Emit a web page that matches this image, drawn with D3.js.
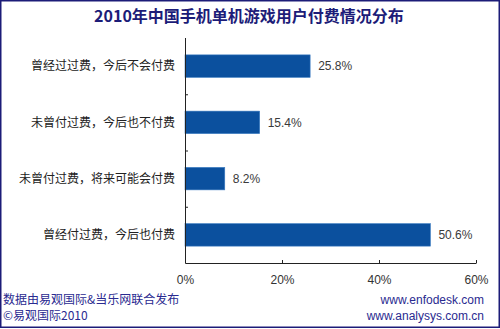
<!DOCTYPE html>
<html>
<head>
<meta charset="utf-8">
<script src="https://cdn.jsdelivr.net/npm/d3@7"></script>
<style>
  html, body { margin: 0; padding: 0; background: #fff; }
  svg { display: block; }
</style>
</head>
<body>
<svg id="chart" width="500" height="329"></svg>
<script>
// Payment status categories, top to bottom
const categories = [
  "曾经过过费，今后不会付费",
  "未曾付过费，今后也不付费",
  "未曾付过费，将来可能会付费",
  "曾经付过费，今后也付费"
];
// Share of users (%)
const values = [25.8, 15.4, 8.2, 50.6];
// Axis ticks
const tickValues = [0, 20, 40, 60];

const title = "2010年中国手机单机游戏用户付费情况分布";
const sourceLines = ["数据由易观国际&当乐网联合发布", "©易观国际2010"];
const siteLines = ["www.enfodesk.com", "www.analysys.com.cn"];

const W = 500, H = 329;
const svg = d3.select("#chart");
const navy = "#1c1c78";
const cjk = "'Noto Sans CJK SC', 'Liberation Sans', sans-serif";
const latin = "'Liberation Sans', Arial, sans-serif";

// Frame
svg.append("rect")
  .attr("x", 0.75).attr("y", 0.75)
  .attr("width", W - 1.5).attr("height", H - 2.5)
  .attr("fill", "#fff")
  .attr("stroke", navy).attr("stroke-width", 1.5);

// Title
svg.append("text")
  .attr("x", 249).attr("y", 22)
  .attr("text-anchor", "middle")
  .attr("font-family", cjk)
  .attr("font-size", 16)
  .attr("font-weight", "bold")
  .attr("fill", navy)
  .text(title);

const x = d3.scaleLinear().domain([0, 60]).range([185, 476]);
const y = d3.scaleBand().domain(categories).range([38, 263]).paddingInner(0.6).paddingOuter(0.3);

// Bars
svg.append("g").selectAll("rect")
  .data(categories)
  .join("rect")
  .attr("x", x(0))
  .attr("y", d => y(d))
  .attr("width", (d, i) => x(values[i]) - x(0))
  .attr("height", y.bandwidth())
  .attr("fill", "#0b509e")
  .attr("stroke", "#3b7cc2")
  .attr("stroke-width", 0.6);

// Value labels
svg.append("g").selectAll("text")
  .data(categories)
  .join("text")
  .attr("x", (d, i) => x(values[i]) + 8)
  .attr("y", d => y(d) + y.bandwidth() / 2)
  .attr("dy", "0.35em")
  .attr("font-family", latin)
  .attr("font-size", 12)
  .attr("fill", "#3a3a3a")
  .text((d, i) => values[i].toFixed(1) + "%");

// Category labels
svg.append("g").selectAll("text")
  .data(categories)
  .join("text")
  .attr("x", 175)
  .attr("y", d => y(d) + y.bandwidth() / 2)
  .attr("dy", "0.36em")
  .attr("text-anchor", "end")
  .attr("font-family", cjk)
  .attr("font-size", 12)
  .attr("fill", "#222")
  .text(d => d);

// Y axis line with separator ticks between categories
const yAxis = svg.append("g");
yAxis.append("line")
  .attr("x1", x(0) + 0.5).attr("x2", x(0) + 0.5)
  .attr("y1", 38).attr("y2", 263.5)
  .attr("stroke", "#222");
const step = y.step();
yAxis.selectAll("line.sep")
  .data(categories.slice(1))
  .join("line")
  .attr("class", "sep")
  .attr("x1", x(0)).attr("x2", x(0) + 3)
  .attr("y1", d => y(d) - (step - y.bandwidth()) / 2 + 0.5)
  .attr("y2", d => y(d) - (step - y.bandwidth()) / 2 + 0.5)
  .attr("stroke", "#222");

// X axis
const xAxisG = svg.append("g")
  .attr("transform", "translate(0,263)")
  .call(d3.axisBottom(x).tickValues(tickValues).tickSize(-3).tickSizeOuter(0)
    .tickPadding(12).tickFormat(d => d + "%"));
xAxisG.select(".domain").attr("stroke", "#222");
xAxisG.selectAll(".tick line").attr("stroke", "#222");
xAxisG.selectAll(".tick text")
  .attr("font-family", latin)
  .attr("font-size", 12)
  .attr("fill", "#333");

// Footer
svg.append("g").selectAll("text")
  .data(sourceLines)
  .join("text")
  .attr("x", 3)
  .attr("y", (d, i) => 304 + i * 16)
  .attr("font-family", cjk)
  .attr("font-size", 12)
  .attr("fill", "#2a2a90")
  .text(d => d);

svg.append("g").selectAll("text")
  .data(siteLines)
  .join("text")
  .attr("x", 484)
  .attr("y", (d, i) => 304 + i * 16)
  .attr("text-anchor", "end")
  .attr("font-family", latin)
  .attr("font-size", 12)
  .attr("fill", "#2a2a90")
  .text(d => d);
</script>
</body>
</html>
